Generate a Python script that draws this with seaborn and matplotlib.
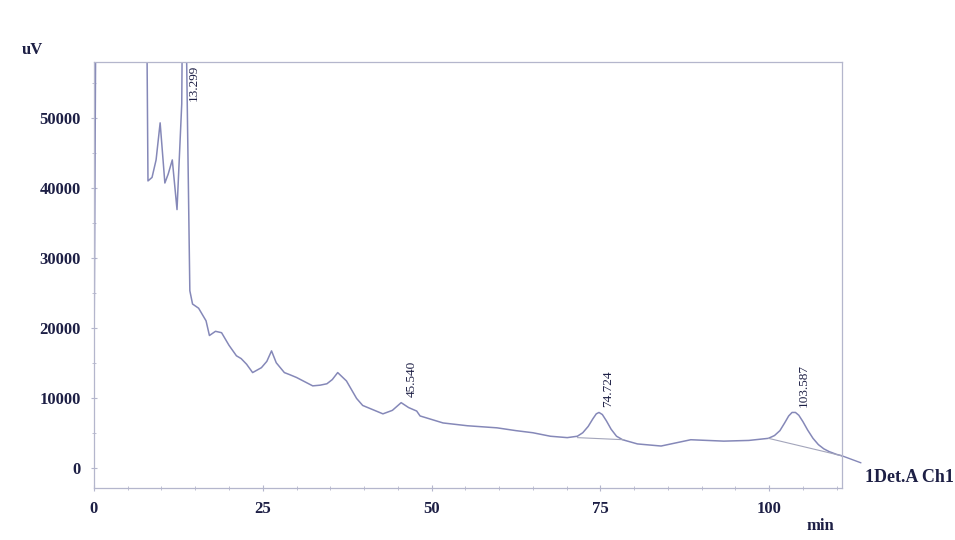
import numpy as np
import pandas as pd
import matplotlib
matplotlib.use("Agg")
import matplotlib.pyplot as plt
from matplotlib.ticker import MultipleLocator
import seaborn as sns

# Chromatogram trace (retention time in min, detector signal in uV)
time_min = [0.0, 0.35, 0.6, 7.7, 8.0, 8.6, 9.2, 9.8, 10.5, 11.0, 11.6, 12.3, 13.0,
            13.3, 13.7, 14.2, 14.6, 15.5, 16.6, 17.1, 18.0, 18.9, 20.0, 21.1, 21.8,
            22.6, 23.5, 24.8, 25.6, 26.3, 27.0, 28.2, 29.0, 30.0, 31.2, 32.4, 33.5,
            34.5, 35.3, 36.1, 37.4, 38.9, 39.8, 41.3, 42.8, 44.2, 45.5, 46.6, 47.8,
            48.3, 50.0, 51.7, 55.3, 59.7, 62.5, 65.0, 67.6, 70.1, 71.6, 72.4, 73.2,
            73.9, 74.4, 74.8, 75.3, 75.9, 76.6, 77.4, 78.3, 80.5, 84.0, 88.4, 93.3,
            97.0, 99.9, 100.8, 101.6, 102.3, 102.9, 103.4, 103.9, 104.4, 105.0,
            105.7, 106.5, 107.3, 108.1, 108.9, 110.0, 110.8]
signal_uv = [14000, 80000, 80000, 80000, 41000, 41500, 44000, 49300, 40700, 42000,
             44000, 36900, 52000, 90000, 60000, 25300, 23400, 22800, 21000, 18900,
             19500, 19300, 17500, 16000, 15600, 14800, 13600, 14300, 15200, 16700,
             15000, 13600, 13300, 12900, 12300, 11700, 11800, 12000, 12600, 13600,
             12400, 9900, 8900, 8300, 7700, 8200, 9300, 8600, 8100, 7400, 6900, 6400,
             6000, 5700, 5300, 5000, 4500, 4300, 4500, 5000, 5900, 7000, 7700, 7900,
             7600, 6700, 5500, 4500, 4000, 3400, 3100, 4000, 3800, 3900, 4200, 4600,
             5300, 6400, 7400, 7900, 7900, 7500, 6600, 5400, 4200, 3300, 2700, 2300,
             1900, 1700]

# Peak labels: retention time and apex height
peak_times = [13.299, 45.540, 74.724, 103.587]
peak_heights = [58000, 9300, 7900, 7900]
peak_labels = ["13.299", "45.540", "74.724", "103.587"]

# Integration baselines drawn under the later peaks
base_t = [[71.6, 78.5], [99.9, 110.8]]
base_v = [[4300, 4000], [4200, 1700]]

x_ticks = [0, 25, 50, 75, 100]
y_ticks = [0, 10000, 20000, 30000, 40000, 50000]

sns.set_theme(style="white")
plt.rcParams["font.family"] = ["Liberation Serif", "DejaVu Serif"]

ink = "#1d1f45"
trace_col = "#8588b8"
frame_col = "#b4b6cc"

fig = plt.figure(figsize=(9.55, 5.40), dpi=100)
ax = fig.add_axes([0.0984, 0.0963, 0.7833, 0.7889])

df = pd.DataFrame({"t": time_min, "uV": signal_uv})
sns.lineplot(data=df, x="t", y="uV", ax=ax, color=trace_col, linewidth=1.1,
             estimator=None, sort=False)

for bt, bv in zip(base_t, base_v):
    ax.plot(bt, bv, color="#a3a5bb", linewidth=0.8)

# Trace leaves the frame towards the channel label
ax.plot([110.8, 113.6], [1700, 700], color=trace_col, linewidth=1.0, clip_on=False)

ax.set_xlim(0, 110.8)
ax.set_ylim(-2900, 58000)
ax.set_xticks(x_ticks)
ax.set_yticks(y_ticks)
ax.xaxis.set_minor_locator(MultipleLocator(5))
ax.yaxis.set_minor_locator(MultipleLocator(5000))
ax.tick_params(axis="both", which="major", direction="inout", length=5, width=0.8,
               color=frame_col, labelsize=12, labelcolor=ink, pad=7)
ax.tick_params(axis="both", which="minor", direction="inout", length=3, width=0.6,
               color=frame_col)
ax.tick_params(axis="x", which="both", bottom=True)
ax.tick_params(axis="y", which="both", left=True)
for lab in ax.get_xticklabels() + ax.get_yticklabels():
    lab.set_fontweight("bold")
ax.set_xlabel("")
ax.set_ylabel("")
for sp in ax.spines.values():
    sp.set_color(frame_col)
    sp.set_linewidth(0.9)

for t, h, lab in zip(peak_times, peak_heights, peak_labels):
    if h >= 58000:
        ax.text(t + 0.6, 57600, lab, rotation=90, ha="left", va="top",
                fontsize=9.5, color=ink)
    else:
        ax.text(t + 0.6, h + 800, lab, rotation=90, ha="left", va="bottom",
                fontsize=9.5, color=ink)

fig.text(22 / 955, 1 - 50 / 540, "uV", fontsize=12, fontweight="bold",
         color=ink, ha="left", va="center")
fig.text(820 / 955, 1 - 526 / 540, "min", fontsize=12, fontweight="bold",
         color=ink, ha="center", va="center")
fig.text(865 / 955, 1 - 478 / 540, "1Det.A Ch1", fontsize=13, fontweight="bold",
         color=ink, ha="left", va="center")

fig.savefig("out.png", dpi=100, facecolor="white")
